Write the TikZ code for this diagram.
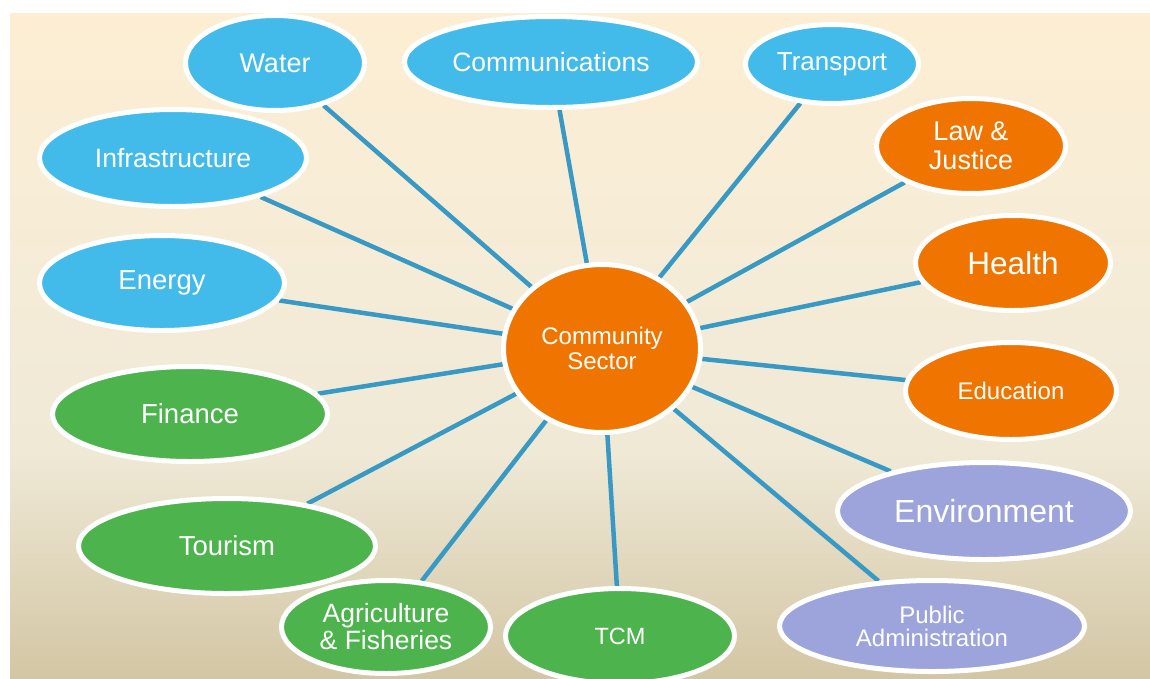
\documentclass[tikz,border=0pt]{standalone}
\usepackage{fontspec}
\setmainfont{Liberation Sans}
\usetikzlibrary{shapes.geometric}
\definecolor{bgtop}{RGB}{253,238,211}
\definecolor{bgmidA}{RGB}{245,236,215}
\definecolor{bgmidB}{RGB}{239,233,214}
\definecolor{bgbot}{RGB}{211,198,164}
\definecolor{cblue}{RGB}{67,187,234}
\definecolor{corange}{RGB}{239,116,0}
\definecolor{cgreen}{RGB}{77,179,77}
\definecolor{clav}{RGB}{157,163,219}
\definecolor{cline}{RGB}{56,154,196}
\pgfdeclareverticalshading{bgshade}{100bp}{color(0bp)=(bgbot); color(25bp)=(bgbot); color(42bp)=(bgmidB); color(55bp)=(bgmidA); color(75bp)=(bgtop); color(100bp)=(bgtop)}
\pgfdeclarelayer{back}
\pgfdeclarelayer{lines}
\pgfsetlayers{back,lines,main}
\newcommand{\fs}[2]{\fontsize{#1}{#2}\selectfont}
\tikzset{
  sect/.style={ellipse, draw=white, line width=5pt, text=white, inner sep=0pt, align=center},
  bluesect/.style={sect, fill=cblue},
  orangesect/.style={sect, fill=corange},
  greensect/.style={sect, fill=cgreen},
  lavsect/.style={sect, fill=clav},
  conn/.style={draw=cline, line width=4.5pt}
}
\begin{document}
\begin{tikzpicture}[x=1pt,y=-1pt]
\useasboundingbox (0,0) rectangle (1150,678);
\begin{pgfonlayer}{back}
\path[shading=bgshade] (10,13) rectangle (1150,678);
\end{pgfonlayer}

\node[bluesect, minimum width=179pt, minimum height=95pt, font=\fs{27}{30}] (water) at (275,63) {Water};
\node[bluesect, minimum width=293pt, minimum height=91pt, font=\fs{26.5}{30}] (comm) at (551,62) {Communications};
\node[bluesect, minimum width=173pt, minimum height=79pt, font=\fs{26}{30}] (transport) at (832,64) {Transport};
\node[bluesect, minimum width=267pt, minimum height=97pt, font=\fs{26.5}{30}] (infra) at (173,158) {Infrastructure};
\node[orangesect, minimum width=189pt, minimum height=95pt, font=\fs{27}{29}] (law) at (971,146) {Law \&\\Justice};
\node[bluesect, minimum width=245pt, minimum height=95pt, font=\fs{27.5}{30}] (energy) at (162,283) {Energy};
\node[orangesect, minimum width=195pt, minimum height=95pt, font=\fs{31.5}{34}] (health) at (1013,263) {Health};
\node[orangesect, minimum width=197pt, minimum height=168pt, font=\fs{24}{25}] (center) at (602,348.5) {Community\\Sector};
\node[greensect, minimum width=275pt, minimum height=95pt, font=\fs{27.5}{30}] (finance) at (190,414) {Finance};
\node[orangesect, minimum width=211pt, minimum height=97pt, font=\fs{24}{27}] (education) at (1011,391) {Education};
\node[lavsect, minimum width=293pt, minimum height=97pt, font=\fs{32}{35}] (environment) at (984,511) {Environment};
\node[greensect, minimum width=297pt, minimum height=95pt, font=\fs{27.5}{30}] (tourism) at (227,546) {Tourism};
\node[greensect, minimum width=209pt, minimum height=93pt, font=\fs{26.5}{27}] (agri) at (386,627) {Agriculture\\\& Fisheries};
\node[greensect, minimum width=229pt, minimum height=95pt, font=\fs{23.5}{27}] (tcm) at (620,636) {TCM};
\node[lavsect, minimum width=305pt, minimum height=91pt, font=\fs{24}{23}] (public) at (932,626) {Public\\Administration};

\begin{pgfonlayer}{lines}
\foreach \n in {water,comm,transport,infra,law,energy,health,finance,education,environment,tourism,agri,tcm,public}
  \draw[conn] (center) -- (\n);
\end{pgfonlayer}
\end{tikzpicture}
\end{document}
